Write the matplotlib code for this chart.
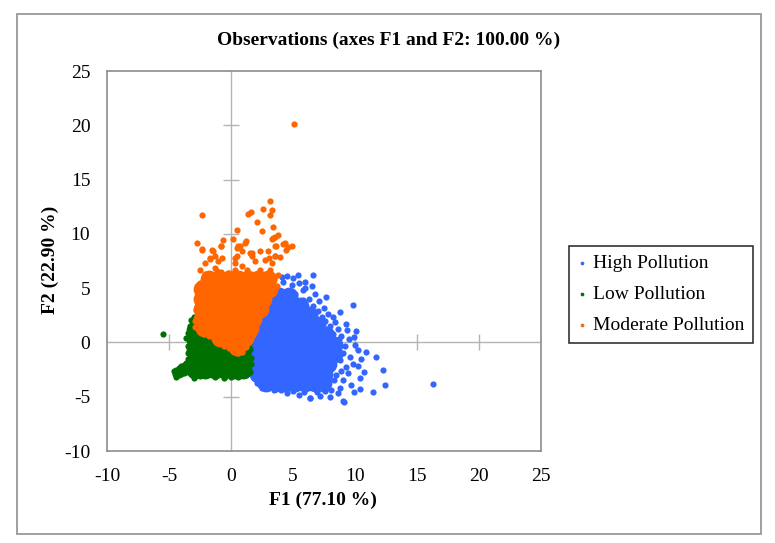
import numpy as np
import matplotlib
matplotlib.use("Agg")
import matplotlib.pyplot as plt
from matplotlib.patches import Rectangle

plt.rcParams['font.family'] = ['Liberation Serif', 'DejaVu Serif']
plt.rcParams['axes.unicode_minus'] = False

# classes, in draw order
labels = ['High Pollution', 'Low Pollution', 'Moderate Pollution']
colors = ['#3366FF', '#007000', '#FF6600']

xticks = [-10, -5, 0, 5, 10, 15, 20, 25]
yticks = [-10, -5, 0, 5, 10, 15, 20, 25]

# dense parts of each cloud (drawn with bigger dots)
high_core = [
    (3.9, 4.3), (4.7, 4.3),
    (3.5, 3.4), (4.3, 3.4), (5.1, 3.4), (5.6, 3.4),
    (3.1, 2.5), (3.9, 2.5), (4.7, 2.5), (5.5, 2.5), (6.25, 2.5),
    (2.7, 1.6), (3.5, 1.6), (4.3, 1.6), (5.1, 1.6), (5.9, 1.6), (6.9, 1.6),
    (2.2, 0.7), (3.0, 0.7), (3.8, 0.7), (4.6, 0.7), (5.4, 0.7), (6.2, 0.7), (7.0, 0.7), (7.7, 0.7),
    (2.1, -0.2), (2.9, -0.2), (3.7, -0.2), (4.5, -0.2), (5.3, -0.2), (6.1, -0.2), (6.9, -0.2), (7.7, -0.2), (8.3, -0.2),
    (2.1, -1.1), (2.9, -1.1), (3.7, -1.1), (4.5, -1.1), (5.3, -1.1), (6.1, -1.1), (6.9, -1.1), (7.7, -1.1), (8.3, -1.1),
    (2.1, -2.0), (2.9, -2.0), (3.7, -2.0), (4.5, -2.0), (5.3, -2.0), (6.1, -2.0), (6.9, -2.0), (7.8, -2.0),
    (2.2, -2.9), (3.0, -2.9), (3.8, -2.9), (4.6, -2.9), (5.4, -2.9), (6.2, -2.9), (7.0, -2.9), (7.5, -2.9),
    (2.8, -3.7), (3.6, -3.7), (4.4, -3.7), (5.2, -3.7), (6.0, -3.7), (6.8, -3.7), (7.4, -3.7),
]
low_core = [
    (-2.9, -2.5), (-2.1, -2.5), (-1.3, -2.5), (-0.5, -2.5), (0.3, -2.5), (1.0, -2.5),
    (-2.9, -1.6), (-2.1, -1.6), (-1.3, -1.6), (-0.5, -1.6), (0.3, -1.6), (1.0, -1.6),
    (-2.9, -0.7), (-2.1, -0.7), (-1.3, -0.7), (-0.5, -0.7), (0.3, -0.7), (1.0, -0.7),
    (-2.9, 0.2), (-2.1, 0.2), (-1.3, 0.2), (-0.5, 0.2), (1.0, 0.2),
    (-2.9, 1.1),
]
moderate_core = [
    (-1.8, 5.8), (-1.0, 5.8), (-0.2, 5.8), (0.6, 5.8), (1.4, 5.8), (2.2, 5.8), (3.0, 5.8),
    (-2.3, 4.9), (-1.5, 4.9), (-0.7, 4.9), (0.1, 4.9), (0.9, 4.9), (1.7, 4.9), (2.5, 4.9), (3.1, 4.9),
    (-2.3, 4.0), (-1.5, 4.0), (-0.7, 4.0), (0.1, 4.0), (0.9, 4.0), (1.7, 4.0), (2.6, 4.0),
    (-2.3, 3.1), (-1.5, 3.1), (-0.7, 3.1), (0.1, 3.1), (0.9, 3.1), (1.7, 3.1), (2.3, 3.1),
    (-2.3, 2.2), (-1.5, 2.2), (-0.7, 2.2), (0.1, 2.2), (0.9, 2.2), (1.8, 2.2),
    (-2.2, 1.3), (-1.4, 1.3), (-0.6, 1.3), (0.2, 1.3), (1.0, 1.3), (1.5, 1.3),
    (-0.9, 0.4), (-0.2, 0.4), (0.5, 0.4), (1.1, 0.4),
    (0.5, -0.4),
]

# scattered observations around the clouds
high_pts = [
    (6.62, 6.24), (9.84, 3.47), (9.31, 1.69), (10.06, 1.01), (9.36, 1.17), (11.67, -1.38),
    (10.5, -1.5), (12.25, -2.55), (12.39, -3.96), (11.42, -4.6), (10.38, -4.27), (16.33, -3.8),
    (9.1, -5.53), (10.24, -0.68), (10.24, -2.2), (10.38, -3.3), (8.23, 2.3), (7.1, 3.78),
    (5.82, 4.85), (6.52, 5.16), (5.5, 5.5), (6.0, 5.0), (7.5, 3.2), (7.8, 2.6), (8.6, 1.2),
    (8.9, 0.6), (9.5, 0.3), (10.0, -0.2), (9.6, -1.3), (9.8, -2.0), (9.4, -2.8), (9.0, -3.5),
    (8.6, -4.7), (8.0, -5.0), (7.2, -4.9), (6.4, -5.1), (5.5, -4.8), (4.5, -4.7), (3.5, -4.4),
    (2.5, -4.2), (8.8, -4.2), (8.5, -3.0), (9.0, -1.0), (4.5, 6.1), (5.0, 5.9), (4.2, 5.6),
    (4.9, 5.3), (2.07, -3.75), (-2.09, -2.83), (6.36, -5.13), (9.03, -5.44), (6.8, 4.5),
    (7.6, 2.0), (8.0, 1.5), (6.3, 4.0),
    (5.2, 4.5), (5.8, 3.9), (6.6, 3.4), (7.0, 2.9), (7.3, 2.3), (8.4, 1.9), (8.2, 0.8),
    (8.7, 0.3), (9.2, -0.3), (8.8, -1.6), (9.3, -2.3), (8.9, -2.6), (8.3, -3.5), (8.1, -4.4),
    (7.6, -4.5), (6.9, -4.6), (5.9, -4.6), (5.0, -4.5), (4.0, -4.4), (3.0, -4.2), (2.3, -3.9),
    (9.7, -3.9), (9.9, -4.6), (10.7, -2.7), (10.9, -0.9), (9.9, 0.5), (8.8, 2.8), (7.7, 4.2),
    (6.0, 5.6), (5.4, 6.2), (4.1, 6.0),
]
low_pts = [
    (-5.5, 0.75), (-3.2, 2.1), (-3.0, 2.3), (-3.3, 1.5), (-3.5, 0.9), (-3.6, 0.4), (-3.5, -0.3),
    (-3.45, -1.0), (-3.5, -1.5),
    (-4.6, -2.6), (-4.4, -2.5), (-4.2, -2.35), (-4.0, -2.2), (-3.8, -2.05), (-3.6, -1.9), (-3.3, -1.75),
    (-4.5, -2.9), (-4.3, -2.8), (-4.1, -2.65), (-3.9, -2.55), (-3.7, -2.4), (-3.5, -2.3), (-3.3, -2.2),
    (-4.4, -3.15), (-4.2, -3.0), (-4.0, -2.95), (-3.8, -2.85), (-3.6, -2.75), (-3.4, -2.65),
    (-2.95, -3.3), (-2.5, -3.1), (-1.9, -3.0), (-1.3, -3.2), (-0.6, -3.3), (0.0, -3.15), (0.6, -3.2),
    (1.2, -3.0), (1.5, -2.7), (1.6, -2.0), (1.65, -1.4), (1.55, -0.6), (1.5, 0.0), (1.4, -0.2),
]
moderate_pts = [
    (5.1, 20.1), (-2.33, 11.7), (3.11, 13.0), (2.57, 12.3), (3.27, 12.2), (3.14, 11.7), (1.37, 11.8),
    (1.63, 12.0), (2.12, 11.1), (3.35, 10.6), (2.52, 10.3), (0.46, 10.4), (-0.67, 9.4), (0.19, 9.5),
    (-2.74, 9.2), (-2.33, 8.6), (1.18, 9.3), (-0.83, 8.85), (-1.47, 8.45), (3.27, 9.5), (3.54, 9.7),
    (3.78, 9.86), (3.62, 8.85), (4.21, 9.06), (4.61, 8.76), (0.72, 8.9), (0.88, 8.4), (0.51, 8.7),
    (2.33, 8.4), (2.95, 8.45), (1.53, 8.23), (1.71, 8.0), (3.03, 7.77), (3.52, 8.0), (3.94, 7.86),
    (4.42, 8.5), (-1.29, 8.0), (-1.69, 7.77), (-0.75, 7.77), (0.32, 7.77),
    (-2.36, 8.54), (-1.55, 8.48), (-1.69, 7.68), (-2.09, 7.31), (-1.02, 7.47), (-0.8, 8.9),
    (-2.5, 6.7), (-2.09, 6.33), (-1.29, 6.85), (-1.15, 6.54), (0.59, 8.85), (1.13, 9.2), (0.46, 7.93),
    (0.32, 7.31), (0.86, 7.0), (0.32, 6.7), (1.26, 6.7), (1.66, 8.23), (1.93, 7.47), (2.74, 7.62),
    (3.27, 7.31), (3.54, 8.85), (3.4, 9.6), (4.34, 9.15), (2.33, 6.7), (3.14, 6.7), (3.54, 7.93),
    (4.88, 8.85), (-0.21, 6.39), (1.66, 6.08), (3.8, 6.2), (3.5, 5.8),
    (-2.8, 3.0), (-2.9, 2.0), (-2.7, 4.5), (-2.5, 5.5), (-2.2, 5.9), (-2.9, 1.4), (-2.6, 1.1),
    (-2.2, 0.8), (-1.8, 0.55), (-1.4, 0.3), (-1.0, 0.0), (-0.6, -0.3), (-0.2, -0.55), (0.2, -0.8),
    (0.6, -0.95), (0.9, -0.85), (1.2, -0.4), (1.5, 0.1), (1.8, 0.7), (3.7, 5.2), (-0.8, 6.5),
    (0.8, 6.3), (2.6, 6.2), (-1.6, 6.1),
]

cores = [high_core, low_core, moderate_core]
points = [high_pts, low_pts, moderate_pts]

W, H = 775, 543
fig = plt.figure(figsize=(W / 100, H / 100), dpi=100)
ax = fig.add_axes([107 / W, 1 - 451 / H, (541 - 107) / W, (451 - 71) / H])

for lab, col, core, pts in zip(labels, colors, cores, points):
    c = np.array(core)
    p = np.array(pts)
    ax.scatter(c[:, 0], c[:, 1], s=165, color=col, linewidths=0, zorder=3)
    ax.scatter(p[:, 0], p[:, 1], s=20, color=col, linewidths=0, zorder=3, label=lab)

# zero lines with their small cross ticks
ax.axhline(0, color='#B4B4B4', lw=1, zorder=1)
ax.axvline(0, color='#B4B4B4', lw=1, zorder=1)
ax.plot(xticks[1:-1], [0] * len(xticks[1:-1]), '|', ms=11, mew=1, color='#B4B4B4', zorder=1)
ax.plot([0] * len(yticks[1:-1]), yticks[1:-1], '_', ms=11, mew=1, color='#B4B4B4', zorder=1)

ax.set_xlim(-10, 25)
ax.set_ylim(-10, 25)
ax.set_xticks(xticks)
ax.set_yticks(yticks)
ax.tick_params(length=0, labelsize=14)
ax.tick_params(axis='x', pad=12)
ax.tick_params(axis='y', pad=12)
for s in ax.spines.values():
    s.set_color('#8C8C8C')
    s.set_linewidth(1.2)

fig.text(389 / W, 1 - 40 / H, 'Observations (axes F1 and F2: 100.00 %)',
         ha='center', va='center', fontsize=14, fontweight='bold')
fig.text(323 / W, 1 - 500 / H, 'F1 (77.10 %)', ha='center', va='center',
         fontsize=14, fontweight='bold')
fig.text(50 / W, 1 - 260 / H, 'F2 (22.90 %)', ha='center', va='center',
         fontsize=14, fontweight='bold', rotation=90)

leg = ax.legend(loc='upper left', bbox_to_anchor=(569 / W, 1 - 246 / H),
                bbox_transform=fig.transFigure, borderaxespad=0, fontsize=14,
                frameon=True, fancybox=False, edgecolor='black',
                markerscale=0.6, handlelength=0.4, handletextpad=0.4,
                labelspacing=0.68, borderpad=0.45)
leg.get_frame().set_linewidth(1.2)

# outer border of the chart area
fig.patches.append(Rectangle((17 / W, 1 - 534 / H), (761 - 17) / W, (534 - 14) / H,
                             transform=fig.transFigure, fill=False,
                             edgecolor='#999999', lw=1.3))

fig.savefig('out.png', dpi=100)
